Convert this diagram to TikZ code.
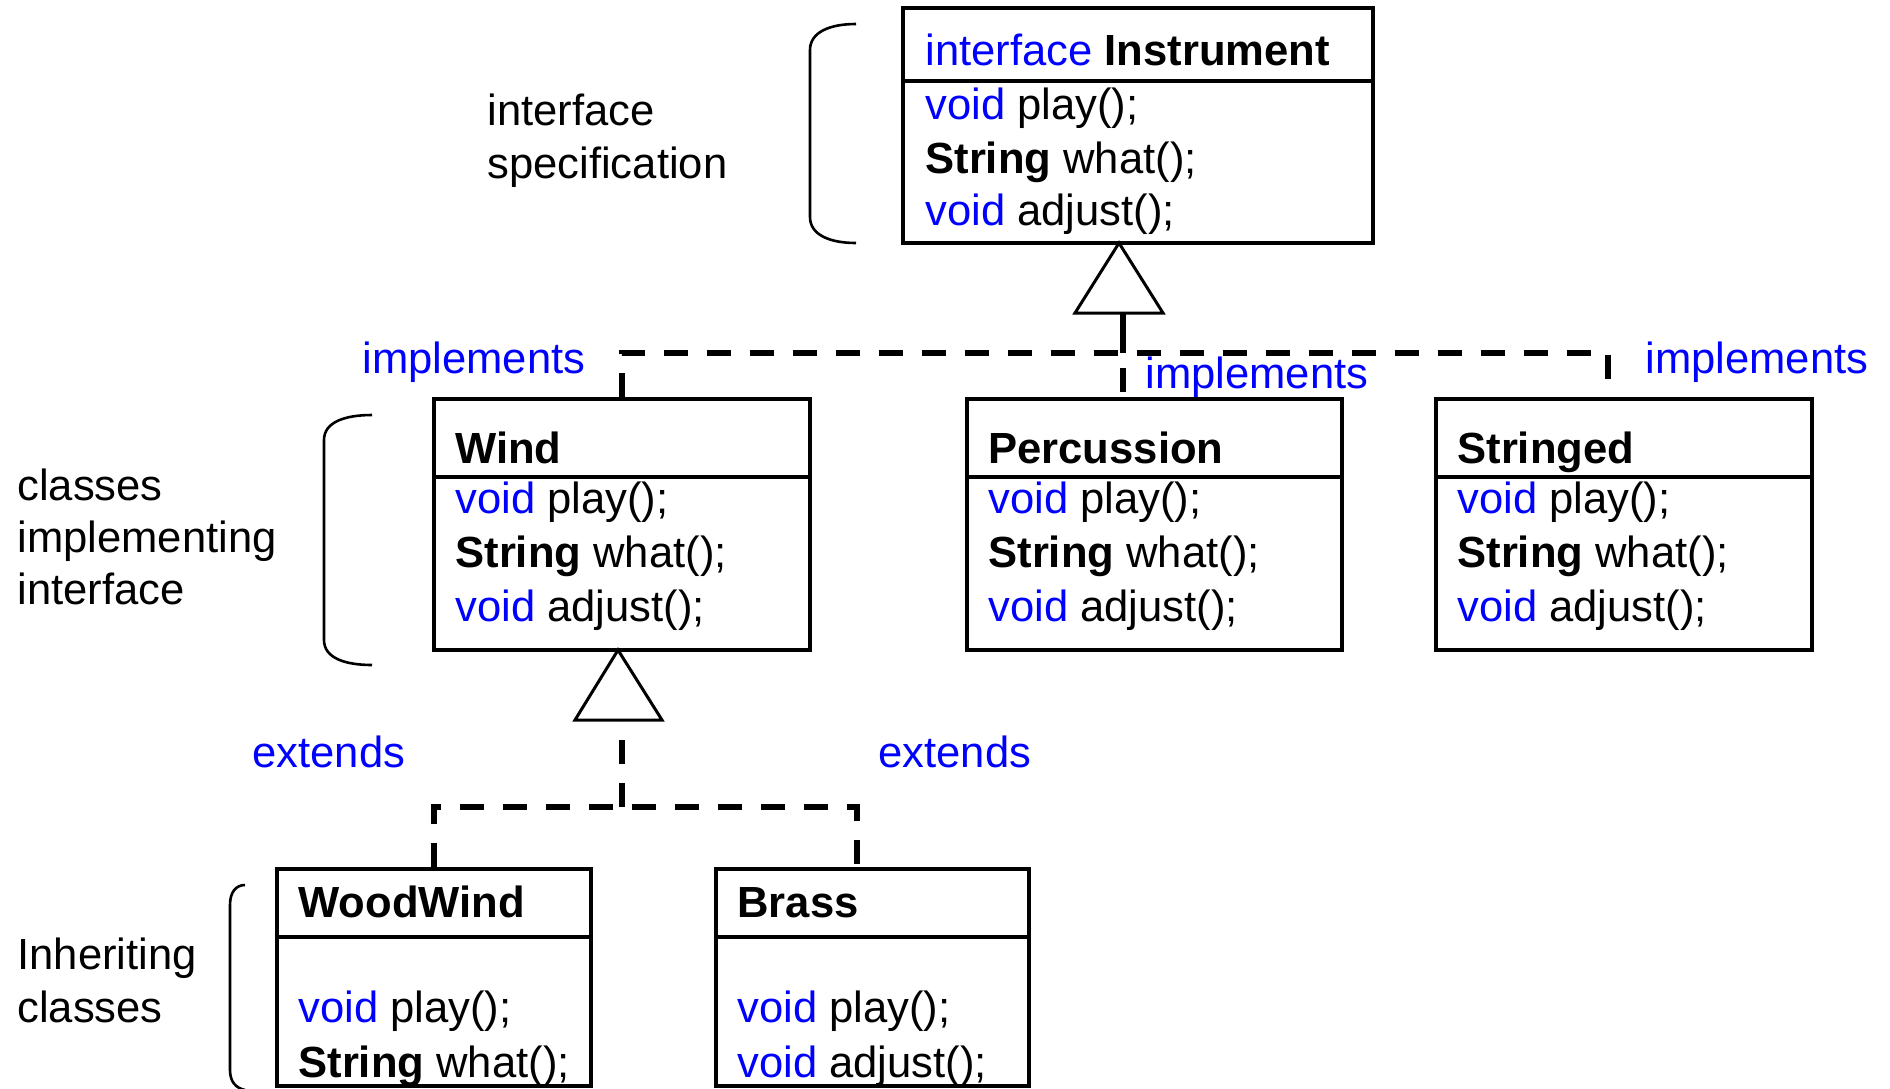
\documentclass[tikz,border=0pt]{standalone}
\usepackage{fontspec}
\setmainfont{Liberation Sans}
\usetikzlibrary{fit}
\definecolor{kw}{RGB}{0,0,255}
\begin{document}
\begin{tikzpicture}[x=0.5pt,y=-0.5pt,
  box/.style={draw, line width=1.6pt, inner sep=0pt},
  sepline/.style={line width=1.6pt},
  txt/.style={anchor=base west, inner sep=0pt, font=\fontsize{21.8}{26}\selectfont},
  dashline/.style={line width=3pt, dash pattern=on 12pt off 9.5pt},
  solidline/.style={line width=3pt},
  tri/.style={draw, line width=1.5pt, line join=miter},
  bracel/.style={line width=1.3pt}]
\useasboundingbox (0,0) rectangle (1890,1088);
\clip (0,0) rectangle (1890,1088);

% ---------- boxes ----------
\node[box, fit={(903,8) (1373,243)}] (instr) {};
\draw[sepline] (903,81) -- (1373,81);
\node[box, fit={(434,399) (810,650)}] (wind) {};
\draw[sepline] (434,477) -- (810,477);
\node[box, fit={(967,399) (1342,650)}] (perc) {};
\draw[sepline] (967,477) -- (1342,477);
\node[box, fit={(1436,399) (1812,650)}] (stringed) {};
\draw[sepline] (1436,477) -- (1812,477);
\node[box, fit={(277,869) (591,1086)}] (wood) {};
\draw[sepline] (277,937) -- (591,937);
\node[box, fit={(716,869) (1029,1086)}] (brass) {};
\draw[sepline] (716,937) -- (1029,937);

% ---------- box texts ----------
\node[txt] (i0) at (925,65) {\textcolor{kw}{interface} \textbf{Instrument}};
\node[txt] (i1) at (925,119) {\textcolor{kw}{void} play();};
\node[txt] (i2) at (925,173) {\textbf{String} what();};
\node[txt] (i3) at (925,225) {\textcolor{kw}{void} adjust();};

\node[txt] (w0) at (455,463) {\textbf{Wind}};
\node[txt] (w1) at (455,513) {\textcolor{kw}{void} play();};
\node[txt] (w2) at (455,567) {\textbf{String} what();};
\node[txt] (w3) at (455,621) {\textcolor{kw}{void} adjust();};

\node[txt] (p0) at (988,463) {\textbf{Percussion}};
\node[txt] (p1) at (988,513) {\textcolor{kw}{void} play();};
\node[txt] (p2) at (988,567) {\textbf{String} what();};
\node[txt] (p3) at (988,621) {\textcolor{kw}{void} adjust();};

\node[txt] (s0) at (1457,463) {\textbf{Stringed}};
\node[txt] (s1) at (1457,513) {\textcolor{kw}{void} play();};
\node[txt] (s2) at (1457,567) {\textbf{String} what();};
\node[txt] (s3) at (1457,621) {\textcolor{kw}{void} adjust();};

\node[txt] (ww0) at (298,917) {\textbf{WoodWind}};
\node[txt] (ww1) at (298,1022) {\textcolor{kw}{void} play();};
\node[txt] (ww2) at (298,1077) {\textbf{String} what();};

\node[txt] (b0) at (737,917) {\textbf{Brass}};
\node[txt] (b1) at (737,1022) {\textcolor{kw}{void} play();};
\node[txt] (b2) at (737,1077) {\textcolor{kw}{void} adjust();};

% ---------- side labels ----------
\node[txt] (l1a) at (487,125) {interface};
\node[txt] (l1b) at (487,178) {specification};
\node[txt] (l2a) at (17,500) {classes};
\node[txt] (l2b) at (17,552) {implementing};
\node[txt] (l2c) at (17,604) {interface};
\node[txt] (l3a) at (17,969) {Inheriting};
\node[txt] (l3b) at (17,1022) {classes};

\node[txt, text=kw] (im1) at (362,373) {implements};
\node[txt, text=kw] (im2) at (1145,388) {implements};
\node[txt, text=kw] (im3) at (1645,373) {implements};
\node[txt, text=kw] (ex1) at (252,767) {extends};
\node[txt, text=kw] (ex2) at (878,767) {extends};

% ---------- braces ----------
\draw[bracel] (856,24) .. controls (830,24) and (810,32) .. (810,50) -- (810,217)
  .. controls (810,235) and (830,243) .. (856,243);
\draw[bracel] (372,415) .. controls (345,415) and (324,422) .. (324,440) -- (324,640)
  .. controls (324,658) and (345,665) .. (372,665);
\draw[bracel] (245,885) .. controls (236,885) and (230,892) .. (230,905) -- (230,1070)
  .. controls (230,1082) and (236,1088) .. (245,1090);

% ---------- implements connectors ----------
\coordinate (tri1apex) at (1119,243);
\coordinate (tri1base) at (1123,313);
\coordinate (jtop) at (1123,353);
\coordinate (sj) at (1608,353);
\draw[tri] (tri1apex) -- (1075,313) -- (1163,313) -- cycle;
\draw[solidline] (tri1base) -- (jtop);
\draw[dashline] (wind.north) |- (sj) -- (stringed.north -| sj);
\draw[dashline, dash phase=14pt] (jtop) -- (perc.north -| jtop);

% ---------- extends connectors ----------
\coordinate (tri2apex) at (618,650);
\coordinate (tri2base) at (622,720);
\coordinate (jlow) at (622,807);
\coordinate (bj) at (857,807);
\draw[tri] (tri2apex) -- (575,720) -- (662,720) -- cycle;
\draw[dashline] (jlow) -- (tri2base);
\draw[dashline] (wood.north) |- (bj) -- (brass.north -| bj);
\end{tikzpicture}
\end{document}
